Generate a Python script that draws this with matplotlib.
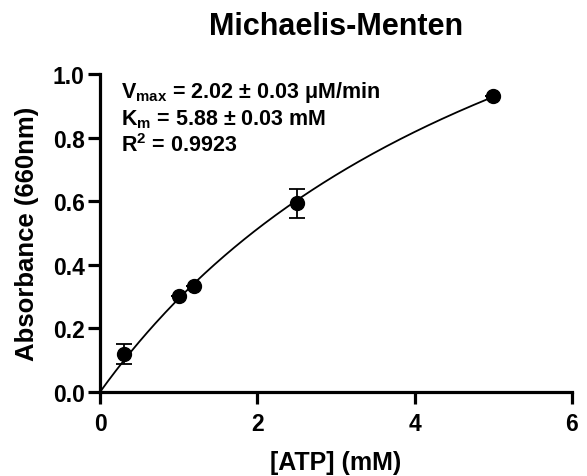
import numpy as np
import matplotlib
matplotlib.use("Agg")
import matplotlib.pyplot as plt

# data
atp = [0.3, 1.0, 1.2, 2.5, 5.0]
absorb = [0.12, 0.303, 0.333, 0.593, 0.932]
err = [0.031, 0.0, 0.0, 0.045, 0.0]

# fit parameters
vmax = 2.02
km = 5.88

plt.rcParams['font.family'] = ['Liberation Sans', 'DejaVu Sans']
plt.rcParams['font.weight'] = 'bold'
plt.rcParams['mathtext.fontset'] = 'custom'
plt.rcParams['mathtext.bf'] = 'Liberation Sans:bold'
plt.rcParams['mathtext.rm'] = 'Liberation Sans:bold'

fig = plt.figure(figsize=(5.87, 4.77), dpi=100)
ax = fig.add_axes([0.1704, 0.1761, 0.8040, 0.6667])

xs = np.linspace(0, max(atp), 200)
ax.plot(xs, vmax * xs / (km + xs), color='black', lw=1.3, zorder=2)

ax.errorbar(atp, absorb, yerr=err, fmt='o', color='black', ms=10,
            ecolor='black', elinewidth=1.3, capsize=6, capthick=1.3, zorder=3)

ax.set_xlim(0, 6)
ax.set_ylim(0, 1.0)
ax.set_xticks([0, 2, 4, 6])
ax.set_yticks([0.0, 0.2, 0.4, 0.6, 0.8, 1.0])
ax.set_yticklabels(['0.0', '0.2', '0.4', '0.6', '0.8', '1.0'])

for s in ['top', 'right']:
    ax.spines[s].set_visible(False)
for s in ['left', 'bottom']:
    ax.spines[s].set_linewidth(2.3)
ax.tick_params(width=2.3, length=8.5, labelsize=16.5)
ax.tick_params(axis='x', pad=6)
ax.tick_params(axis='y', pad=2.5)
for lab in ax.get_xticklabels() + ax.get_yticklabels():
    lab.set_fontweight('bold')

ax.set_xlabel('[ATP] (mM)', fontsize=18, fontweight='bold', labelpad=11)
ax.set_ylabel('Absorbance (660nm)', fontsize=18.5, fontweight='bold', labelpad=10)
ax.set_title('Michaelis-Menten', fontsize=22, fontweight='bold', pad=29)

txt = ('$\\mathbf{V_{max}}$ = 2.02 ± 0.03 μM/min\n'
       '$\\mathbf{K_m}$ = 5.88 ± 0.03 mM\n'
       '$\\mathbf{R^2}$ = 0.9923')
ax.text(0.045, 0.985, txt, transform=ax.transAxes, fontsize=15.5,
        fontweight='bold', va='top', ha='left', linespacing=1.2)

fig.savefig('out.png', dpi=100)
